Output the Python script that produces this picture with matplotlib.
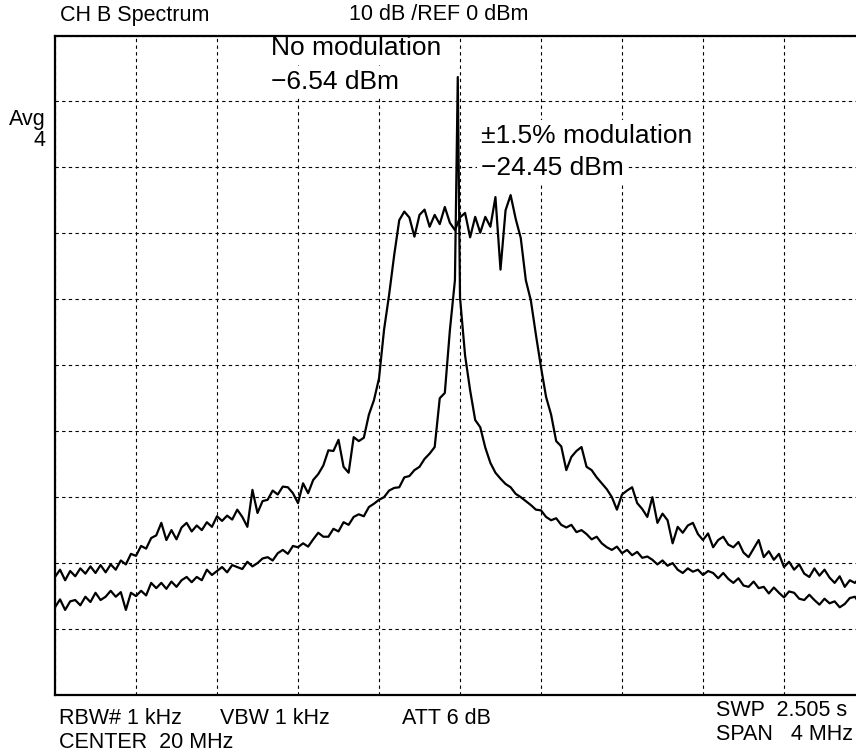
import numpy as np
import matplotlib
matplotlib.use("Agg")
import matplotlib.pyplot as plt

plt.rcParams['font.family'] = ['Liberation Sans', 'DejaVu Sans']

CENTER_MHZ = 20.0
SPAN_MHZ = 4.0
REF_DBM = 0
DB_PER_DIV = 10
N_POINTS = 161

# +-1.5% spread spectrum trace, dBm, one value per sweep point
MOD_DBM = [
    -82.1, -81.0, -82.6, -81.2, -82.0, -80.8, -81.6, -80.5,
    -81.5, -80.3, -81.4, -80.2, -81.0, -79.6, -80.2, -78.6,
    -78.9, -77.4, -77.8, -76.2, -75.8, -73.9, -76.5, -75.0,
    -76.4, -74.6, -73.9, -75.2, -74.3, -75.0, -73.8, -74.5,
    -72.9, -73.6, -72.8, -73.4, -71.9, -73.0, -74.5, -68.9,
    -72.4, -70.6, -70.4, -69.0, -69.6, -68.4, -68.5, -69.4,
    -70.9, -67.9, -69.4, -67.4, -66.5, -65.2, -62.9, -63.0,
    -61.3, -65.4, -66.3, -60.9, -61.5, -61.0, -57.5, -55.3,
    -52.0, -44.6, -39.3, -33.3, -28.0, -26.7, -27.6, -30.5,
    -27.2, -26.4, -29.0, -27.2, -28.6, -26.0, -28.4, -29.5,
    -27.6, -26.9, -30.6, -27.5, -29.9, -27.5, -29.0, -24.5,
    -35.5, -26.5, -24.2, -27.8, -30.7, -37.1, -40.2, -45.4,
    -50.3, -54.8, -57.5, -61.5, -62.3, -65.9, -63.9, -63.0,
    -62.4, -65.4, -65.9, -67.0, -67.9, -68.8, -70.0, -71.9,
    -69.6, -69.0, -68.5, -70.9, -71.8, -73.0, -70.0, -73.9,
    -72.5, -73.5, -77.0, -74.5, -75.4, -74.3, -73.9, -75.6,
    -76.5, -75.5, -77.6, -76.5, -76.0, -77.2, -77.6, -76.8,
    -78.4, -79.1, -77.8, -76.5, -79.1, -78.2, -79.5, -78.6,
    -80.6, -79.8, -81.0, -80.2, -81.6, -82.1, -80.8, -81.9,
    -81.0, -82.2, -83.0, -82.0, -83.6, -82.6, -83.0, -82.2,
    -83.5,
]

# no modulation trace, dBm
UNMOD_DBM = [
    -86.7, -85.5, -87.1, -85.8, -85.6, -86.4, -85.1, -85.9,
    -84.5, -85.6, -85.1, -84.2, -85.1, -84.4, -87.1, -84.5,
    -85.0, -84.2, -84.9, -83.0, -83.8, -83.0, -83.9, -82.8,
    -83.6, -82.6, -82.1, -82.9, -82.1, -82.6, -81.0, -81.8,
    -81.2, -80.6, -81.4, -80.3, -80.6, -80.9, -79.8, -80.5,
    -80.0, -79.3, -79.1, -79.6, -78.5, -78.0, -78.6, -77.4,
    -77.6, -77.0, -77.5, -76.4, -75.4, -76.0, -76.0, -74.8,
    -75.2, -73.8, -74.2, -73.0, -72.6, -72.9, -71.5, -71.0,
    -70.4, -70.0, -69.0, -68.6, -68.5, -67.0, -66.8, -65.9,
    -65.4, -64.2, -63.4, -62.4, -55.0, -54.2, -44.7, -37.1,
    -39.7, -48.5, -53.8, -58.3, -59.4, -62.5, -64.8, -66.3,
    -67.2, -68.0, -68.5, -69.5, -70.0, -70.6, -71.2, -71.9,
    -72.0, -73.0, -73.5, -73.2, -74.2, -74.6, -74.2, -75.3,
    -75.0, -75.6, -76.4, -76.0, -77.0, -77.6, -78.0, -77.5,
    -78.5, -78.0, -78.8, -78.3, -79.2, -79.0, -79.5, -80.2,
    -79.6, -80.4, -80.0, -81.0, -81.5, -80.8, -81.3, -81.0,
    -81.8, -81.2, -81.5, -82.3, -81.5, -82.4, -83.0, -82.3,
    -83.4, -83.6, -82.8, -83.8, -83.6, -84.6, -83.7, -84.5,
    -85.2, -84.3, -84.5, -85.4, -85.6, -84.8, -85.6, -86.3,
    -85.4, -86.1, -85.8, -86.7, -86.2, -85.3, -85.1, -86.2,
    -85.6,
]

CARRIER_MHZ = 19.989
CARRIER_DBM = -6.3

W, H = 856, 755


def fx(px):
    return px / W


def fy(py):
    return 1 - py / H


freq = np.linspace(CENTER_MHZ - SPAN_MHZ / 2, CENTER_MHZ + SPAN_MHZ / 2, N_POINTS)
idx = np.searchsorted(freq, CARRIER_MHZ)
freq_un = np.insert(freq, idx, CARRIER_MHZ)
dbm_un = np.insert(np.array(UNMOD_DBM), idx, CARRIER_DBM)

fig = plt.figure(figsize=(W / 100, H / 100), dpi=100)
ax = fig.add_axes([fx(55), fy(695), (865 - 55) / W, (695 - 35.5) / H])

ax.plot(freq, MOD_DBM, color='black', lw=1.6)
ax.plot(freq_un, dbm_un, color='black', lw=1.6)

ax.set_xlim(CENTER_MHZ - SPAN_MHZ / 2, CENTER_MHZ + SPAN_MHZ / 2)
ax.set_ylim(REF_DBM - 10 * DB_PER_DIV, REF_DBM)
ax.set_xticks(np.linspace(CENTER_MHZ - SPAN_MHZ / 2, CENTER_MHZ + SPAN_MHZ / 2, 11))
ax.set_yticks(np.arange(REF_DBM - 10 * DB_PER_DIV, REF_DBM + 1, DB_PER_DIV))
ax.tick_params(length=0, labelbottom=False, labelleft=False)
ax.grid(True, color='black', lw=0.8, linestyle=(0, (3, 3)))
for s in ['left', 'top', 'bottom', 'right']:
    ax.spines[s].set_linewidth(1.6)

hdr = 15.5
fig.text(fx(60), fy(15), 'CH B Spectrum', fontsize=hdr, va='center')
fig.text(fx(349), fy(15), '10 dB /REF 0 dBm', fontsize=hdr, va='center')
fig.text(fx(46), fy(120), 'Avg', fontsize=hdr, va='center', ha='right')
fig.text(fx(46), fy(141), '4', fontsize=hdr, va='center', ha='right')

fig.text(fx(59), fy(719), 'RBW# 1 kHz', fontsize=hdr, va='center')
fig.text(fx(220), fy(719), 'VBW 1 kHz', fontsize=hdr, va='center')
fig.text(fx(402), fy(719), 'ATT 6 dB', fontsize=hdr, va='center')
fig.text(fx(59), fy(742), 'CENTER  20 MHz', fontsize=hdr, va='center')
fig.text(fx(716), fy(711), 'SWP  2.505 s', fontsize=hdr, va='center')
fig.text(fx(716), fy(734), 'SPAN   4 MHz', fontsize=hdr, va='center')

# annotations sit above the grid but under the traces and the frame
big = 19
box = dict(facecolor='white', edgecolor='none', pad=3)
notes = [
    (271, 48, 'No modulation'),
    (271, 82, '\u22126.54 dBm'),
    (481, 136, '\u00b11.5% modulation'),
    (481, 168, '\u221224.45 dBm'),
]
for px, py, label in notes:
    ax.text(fx(px), fy(py), label, transform=fig.transFigure, fontsize=big,
            va='center', bbox=box, zorder=1.8)

fig.savefig('out.png', dpi=100)
